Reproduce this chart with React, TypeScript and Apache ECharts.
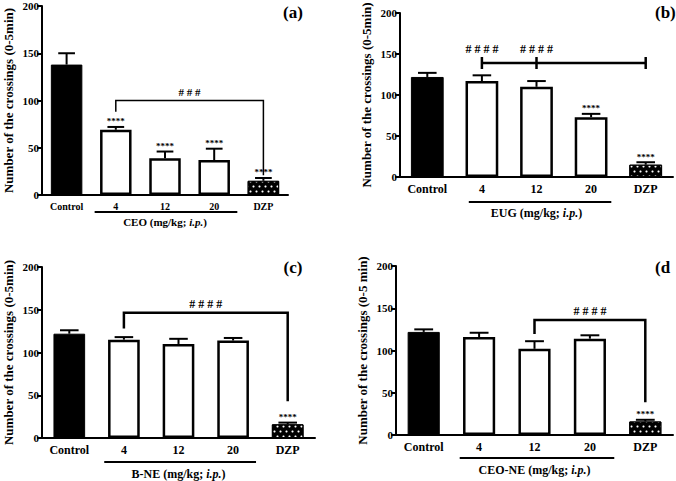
import React, { useEffect, useRef } from 'react';
import * as echarts from 'echarts';

const categories = ['Control', '4', '12', '20', 'DZP'];
const yTicks = { min: 0, max: 200, interval: 50 };

const meanA = [138, 69, 39, 37, 15];
const errA = [150, 72, 46, 49, 18];
const starsA = ['', '****', '****', '****', '****'];
const groupA = 'CEO';
const bracketA = { from: 1, to: 4, y: 100, leftEnd: 88, rightEnd: 21, label: '# # #', ticks: [] as number[], labelsAt: [] as number[] };

const meanB = [122, 117, 110, 73, 15];
const errB = [127, 124, 117, 77, 18];
const starsB = ['', '', '', '****', '****'];
const groupB = 'EUG';
const bracketB = { from: 1, to: 4, y: 139, leftEnd: 139, rightEnd: 139, label: '# # # #', ticks: [1, 2, 4], labelsAt: [1, 2] };

const meanC = [122, 115, 110, 114, 16];
const errC = [126, 118, 116, 117, 18];
const starsC = ['', '', '', '', '****'];
const groupC = 'B-NE';
const bracketC = { from: 1, to: 4, y: 146.5, leftEnd: 128, rightEnd: 43, label: '# # # #', ticks: [] as number[], labelsAt: [] as number[] };

const meanD = [122, 116, 102, 114, 16];
const errD = [125, 121, 111, 118, 18];
const starsD = ['', '', '', '', '****'];
const groupD = 'CEO-NE';
const bracketD = { from: 2, to: 4, y: 136, leftEnd: 119.5, rightEnd: 38.7, label: '# # # #', ticks: [] as number[], labelsAt: [] as number[] };

const yTitles = [
  'Number of the crossings (0-5min)',
  'Number of the crossings (0-5min)',
  'Number of the crossings (0-5min)',
  'Number of the crossings (0-5 min)',
];
const panelLabels = ['(a)', '(b)', '(c)', '(d'];

const FONT = 'Liberation Serif';

const layouts = [
  { grid: { left: 42, top: 6, width: 246, height: 189 }, barWidth: '64%', xFont: 10, yFont: 11, nameFont: 11, nameGap: 21, ulOff: 17, ul: [0.43, 0.47], lab: { x: 293, y: 12, align: 'center' }, bw: 1.5, hashFont: 11, starFont: 9 },
  { grid: { left: 400, top: 13, width: 273, height: 164 }, barWidth: '60%', xFont: 12, yFont: 11, nameFont: 12, nameGap: 30, ulOff: 25, ul: [0.24, 0.37], lab: { x: 655, y: 12, align: 'left' }, bw: 2.5, hashFont: 12, starFont: 9 },
  { grid: { left: 42, top: 267, width: 273, height: 172 }, barWidth: '58%', xFont: 12, yFont: 11, nameFont: 12, nameGap: 30, ulOff: 24, ul: [0.36, 0.42], lab: { x: 293, y: 267, align: 'center' }, bw: 2.5, hashFont: 12, starFont: 9 },
  { grid: { left: 396, top: 266, width: 277, height: 169 }, barWidth: '58%', xFont: 12, yFont: 11, nameFont: 12, nameGap: 29, ulOff: 23, ul: [0.35, 0.44], lab: { x: 655, y: 267, align: 'left' }, bw: 2.5, hashFont: 12, starFont: 9 },
];

const panels = [
  { mean: meanA, err: errA, stars: starsA, group: groupA, bracket: bracketA },
  { mean: meanB, err: errB, stars: starsB, group: groupB, bracket: bracketB },
  { mean: meanC, err: errC, stars: starsC, group: groupC, bracket: bracketC },
  { mean: meanD, err: errD, stars: starsD, group: groupD, bracket: bracketD },
];

function buildOption() {
  const grids: any[] = [];
  const xAxes: any[] = [];
  const yAxes: any[] = [];
  const series: any[] = [];
  const graphics: any[] = [];

  panels.forEach((p, k) => {
    const L = layouts[k];
    grids.push({ ...L.grid, containLabel: false });
    xAxes.push({
      type: 'category',
      gridIndex: k,
      data: categories,
      axisLine: { lineStyle: { color: '#000', width: 2 } },
      axisTick: { alignWithLabel: true, length: 4, lineStyle: { color: '#000', width: 2 } },
      axisLabel: { color: '#000', fontFamily: FONT, fontWeight: 'bold', fontSize: L.xFont, margin: 6 },
      name: `{b|${p.group} (mg/kg; }{i|i.p.}{b|)}`,
      nameLocation: 'middle',
      nameGap: L.nameGap,
      nameTextStyle: {
        rich: {
          b: { fontFamily: FONT, fontWeight: 'bold', fontSize: L.nameFont, color: '#000' },
          i: { fontFamily: FONT, fontWeight: 'bold', fontStyle: 'italic', fontSize: L.nameFont, color: '#000' },
        },
      },
    });
    yAxes.push({
      type: 'value',
      gridIndex: k,
      min: yTicks.min,
      max: yTicks.max,
      interval: yTicks.interval,
      splitLine: { show: false },
      axisLine: { show: true, lineStyle: { color: '#000', width: 2 } },
      axisTick: { show: true, length: 5, lineStyle: { color: '#000', width: 2 } },
      axisLabel: { color: '#000', fontFamily: FONT, fontWeight: 'bold', fontSize: L.yFont, margin: 3 },
      name: yTitles[k],
      nameLocation: 'middle',
      nameGap: 27,
      nameRotate: 90,
      nameTextStyle: { color: '#000', fontFamily: FONT, fontWeight: 'bold', fontSize: 13 },
    });

    // bars
    series.push({
      type: 'bar',
      xAxisIndex: k,
      yAxisIndex: k,
      barWidth: L.barWidth,
      z: 2,
      data: p.mean.map((v, i) => {
        if (i === 0) return { value: v, itemStyle: { color: '#000', borderColor: '#000', borderWidth: 1 } };
        if (i === 4)
          return {
            value: v,
            itemStyle: {
              color: '#000',
              borderColor: '#000',
              borderWidth: 1,
              decal: {
                symbol: 'circle',
                symbolSize: 0.7,
                color: '#ffffff',
                backgroundColor: '#000',
                dashArrayX: [[3, 3], [0, 3, 3, 0]],
                dashArrayY: [3, 1.5],
              },
            },
          };
        return { value: v, itemStyle: { color: '#fff', borderColor: '#000', borderWidth: 2.5 } };
      }),
    });

    // error bars + stars
    const stars = p.stars;
    series.push({
      type: 'custom',
      xAxisIndex: k,
      yAxisIndex: k,
      z: 5,
      data: p.mean.map((v, i) => [i, v, p.err[i]]),
      renderItem: (params: any, api: any) => {
        const x = api.value(0);
        const p0 = api.coord([x, api.value(1)]);
        const p1 = api.coord([x, api.value(2)]);
        const band = api.size([1, 0])[0];
        const half = band * 0.17;
        const children: any[] = [
          { type: 'line', shape: { x1: p0[0], y1: p0[1], x2: p1[0], y2: p1[1] }, style: { stroke: '#000', lineWidth: 2 } },
          { type: 'line', shape: { x1: p1[0] - half, y1: p1[1], x2: p1[0] + half, y2: p1[1] }, style: { stroke: '#000', lineWidth: 2 } },
        ];
        const s = stars[params.dataIndex];
        if (s) {
          children.push({
            type: 'text',
            style: {
              text: s,
              x: p1[0],
              y: p1[1] - 1,
              align: 'center',
              textAlign: 'center',
              verticalAlign: 'bottom',
              textVerticalAlign: 'bottom',
              font: `bold ${L.starFont}px "${FONT}"`,
              fill: '#000',
            },
          });
        }
        return { type: 'group', children };
      },
    });

    // bracket
    const b = p.bracket;
    series.push({
      type: 'custom',
      xAxisIndex: k,
      yAxisIndex: k,
      z: 6,
      data: [[b.from, b.y]],
      renderItem: (_params: any, api: any) => {
        const pl = api.coord([b.from, b.y]);
        const pr = api.coord([b.to, b.y]);
        const style = { stroke: '#000', lineWidth: L.bw, fill: 'none' };
        const children: any[] = [];
        if (b.ticks.length) {
          children.push({ type: 'line', shape: { x1: pl[0], y1: pl[1], x2: pr[0], y2: pr[1] }, style });
          b.ticks.forEach((t) => {
            const pt = api.coord([t, b.y]);
            children.push({ type: 'line', shape: { x1: pt[0], y1: pt[1] - 6, x2: pt[0], y2: pt[1] + 6 }, style });
          });
          b.labelsAt.forEach((t) => {
            const pt = api.coord([t, b.y]);
            children.push({
              type: 'text',
              style: {
                text: b.label, x: pt[0], y: pt[1] - 14,
                align: 'center', textAlign: 'center', verticalAlign: 'middle', textVerticalAlign: 'middle',
                font: `bold ${L.hashFont}px "${FONT}"`, fill: '#000',
              },
            });
          });
        } else {
          const ll = api.coord([b.from, b.leftEnd]);
          const rr = api.coord([b.to, b.rightEnd]);
          children.push({
            type: 'polyline',
            shape: { points: [[ll[0], ll[1]], [pl[0], pl[1]], [pr[0], pr[1]], [rr[0], rr[1]]] },
            style,
          });
          children.push({
            type: 'text',
            style: {
              text: b.label, x: (pl[0] + pr[0]) / 2, y: pl[1] - 9,
              align: 'center', textAlign: 'center', verticalAlign: 'middle', textVerticalAlign: 'middle',
              font: `bold ${L.hashFont}px "${FONT}"`, fill: '#000',
            },
          });
        }
        return { type: 'group', children };
      },
    });

    // group underline
    series.push({
      type: 'custom',
      xAxisIndex: k,
      yAxisIndex: k,
      z: 6,
      data: [[1, 0]],
      renderItem: (_params: any, api: any) => {
        const a = api.coord([1, 0]);
        const c = api.coord([3, 0]);
        const band = api.size([1, 0])[0];
        const y = a[1] + L.ulOff;
        return {
          type: 'line',
          shape: { x1: a[0] - band * L.ul[0], y1: y, x2: c[0] + band * L.ul[1], y2: y },
          style: { stroke: '#000', lineWidth: 2 },
        };
      },
    });

    graphics.push({
      type: 'text',
      x: L.lab.x,
      y: L.lab.y,
      style: {
        text: panelLabels[k],
        font: `bold 17px "${FONT}"`,
        fill: '#000',
        align: L.lab.align,
        textAlign: L.lab.align,
        verticalAlign: 'middle',
        textVerticalAlign: 'middle',
      },
    });
  });

  return {
    animation: false,
    backgroundColor: '#fff',
    grid: grids,
    xAxis: xAxes,
    yAxis: yAxes,
    series,
    graphic: graphics,
  };
}

export default function App() {
  const ref = useRef<HTMLDivElement>(null);
  useEffect(() => {
    document.body.style.margin = '0';
    if (!ref.current) return;
    const chart = echarts.init(ref.current, undefined, { renderer: 'svg' });
    chart.setOption(buildOption() as any);
    return () => chart.dispose();
  }, []);
  return <div ref={ref} style={{ position: 'absolute', left: 0, top: 0, width: 676, height: 481, background: '#fff' }} />;
}
